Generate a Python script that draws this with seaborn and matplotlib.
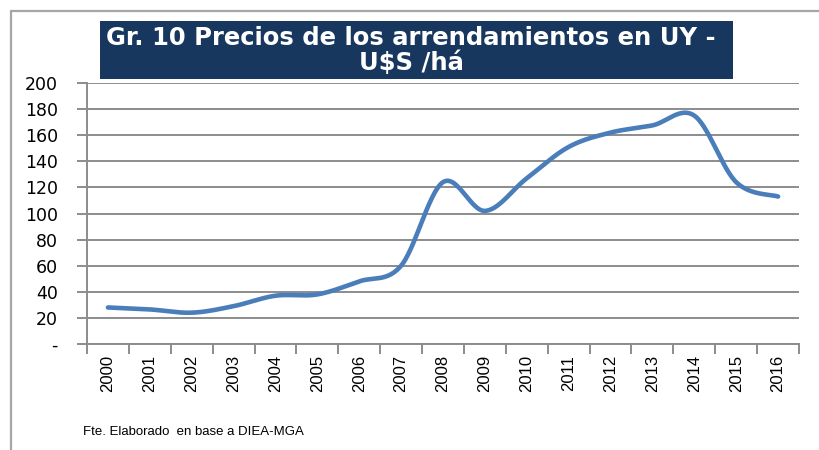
import numpy as np
import pandas as pd
import matplotlib
matplotlib.use("Agg")
import matplotlib.pyplot as plt
from matplotlib.patches import Rectangle
from matplotlib.lines import Line2D
import seaborn as sns

years = ["2000", "2001", "2002", "2003", "2004", "2005", "2006", "2007", "2008",
         "2009", "2010", "2011", "2012", "2013", "2014", "2015", "2016"]
prices = [28, 26.5, 24, 29, 37, 38, 48, 60, 124, 102, 127, 151, 162, 167.5, 175, 124, 113]
yticks = [0, 20, 40, 60, 80, 100, 120, 140, 160, 180, 200]
ytick_labels = ["-", "20", "40", "60", "80", "100", "120", "140", "160", "180", "200"]
title_lines = ["Gr. 10 Precios de los arrendamientos en UY -", "U$S /há"]
source = "Fte. Elaborado  en base a DIEA-MGA"

sns.set_theme(style="white")
plt.rcParams['font.family'] = ['DejaVu Sans']

W, H = 819, 450
fig = plt.figure(figsize=(W / 100, H / 100), dpi=100)

# outer frame (top and left edges visible)
fig.lines.append(Line2D([11 / W, 11 / W], [0, (H - 11) / H], transform=fig.transFigure,
                        color="#A6A6A6", linewidth=1.6))
fig.lines.append(Line2D([11 / W, 1.0], [(H - 11) / H, (H - 11) / H], transform=fig.transFigure,
                        color="#A6A6A6", linewidth=1.6))

ax = fig.add_axes([87 / W, (H - 344) / H, (799 - 87) / W, (344 - 83) / H])

# Excel-like smoothed line (Catmull-Rom through the data points)
x = np.arange(len(prices), dtype=float)
y = np.array(prices, dtype=float)
px = np.concatenate([[x[0]], x, [x[-1]]])
py = np.concatenate([[y[0]], y, [y[-1]]])
sx, sy = [], []
t = np.linspace(0, 1, 30, endpoint=False)
for i in range(1, len(px) - 2):
    p0, p1, p2, p3 = px[i - 1], px[i], px[i + 1], px[i + 2]
    q0, q1, q2, q3 = py[i - 1], py[i], py[i + 1], py[i + 2]
    b1x, b1y = p1 + (p2 - p0) / 6, q1 + (q2 - q0) / 6
    b2x, b2y = p2 - (p3 - p1) / 6, q2 - (q3 - q1) / 6
    sx.extend((1 - t) ** 3 * p1 + 3 * (1 - t) ** 2 * t * b1x + 3 * (1 - t) * t ** 2 * b2x + t ** 3 * p2)
    sy.extend((1 - t) ** 3 * q1 + 3 * (1 - t) ** 2 * t * b1y + 3 * (1 - t) * t ** 2 * b2y + t ** 3 * q2)
sx.append(x[-1]); sy.append(y[-1])
df = pd.DataFrame({"x": sx, "y": sy})
sns.lineplot(data=df, x="x", y="y", ax=ax, sort=False, color="#4A7EBB",
             linewidth=3.3, solid_capstyle="round", zorder=3)

ax.set_xlim(-0.5, len(years) - 0.5)
ax.set_ylim(0, 200)
ax.set_xlabel("")
ax.set_ylabel("")

ax.set_yticks(yticks)
ax.set_yticklabels(ytick_labels, fontsize=12.5, color="#000000")
ax.yaxis.grid(True, color="#8C8C8C", linewidth=1.4)
ax.xaxis.grid(False)

ax.set_xticks(x)
ax.set_xticklabels(years, rotation=90, fontsize=12, color="#000000",
                   family=["Liberation Sans", "DejaVu Sans"])
ax.set_xticks(np.arange(-0.5, len(years), 1.0), minor=True)
ax.tick_params(axis="x", which="major", length=0, pad=8)
ax.tick_params(axis="x", which="minor", length=7, width=1.4, color="#8C8C8C", direction="out", bottom=True)
ax.tick_params(axis="y", which="major", length=7, width=1.4, color="#8C8C8C", direction="out", left=True, pad=14)

for s in ["top", "right"]:
    ax.spines[s].set_visible(False)
for s in ["left", "bottom"]:
    ax.spines[s].set_color("#8C8C8C")
    ax.spines[s].set_linewidth(1.4)

# title box
fig.patches.append(Rectangle((100 / W, (H - 79) / H), (733 - 100) / W, 58 / H,
                             transform=fig.transFigure, facecolor="#17375E",
                             edgecolor="none", zorder=5))
fig.text(411 / W, (H - 38) / H, title_lines[0], ha="center", va="center", color="white",
         fontsize=17.5, fontweight="bold", zorder=6)
fig.text(411 / W, (H - 63) / H, title_lines[1], ha="center", va="center", color="white",
         fontsize=17.5, fontweight="bold", zorder=6)

fig.text(83 / W, (H - 432) / H, source, ha="left", va="center", fontsize=9.5,
         color="#000000", family=["Liberation Sans", "DejaVu Sans"])

fig.savefig("out.png", dpi=100)
